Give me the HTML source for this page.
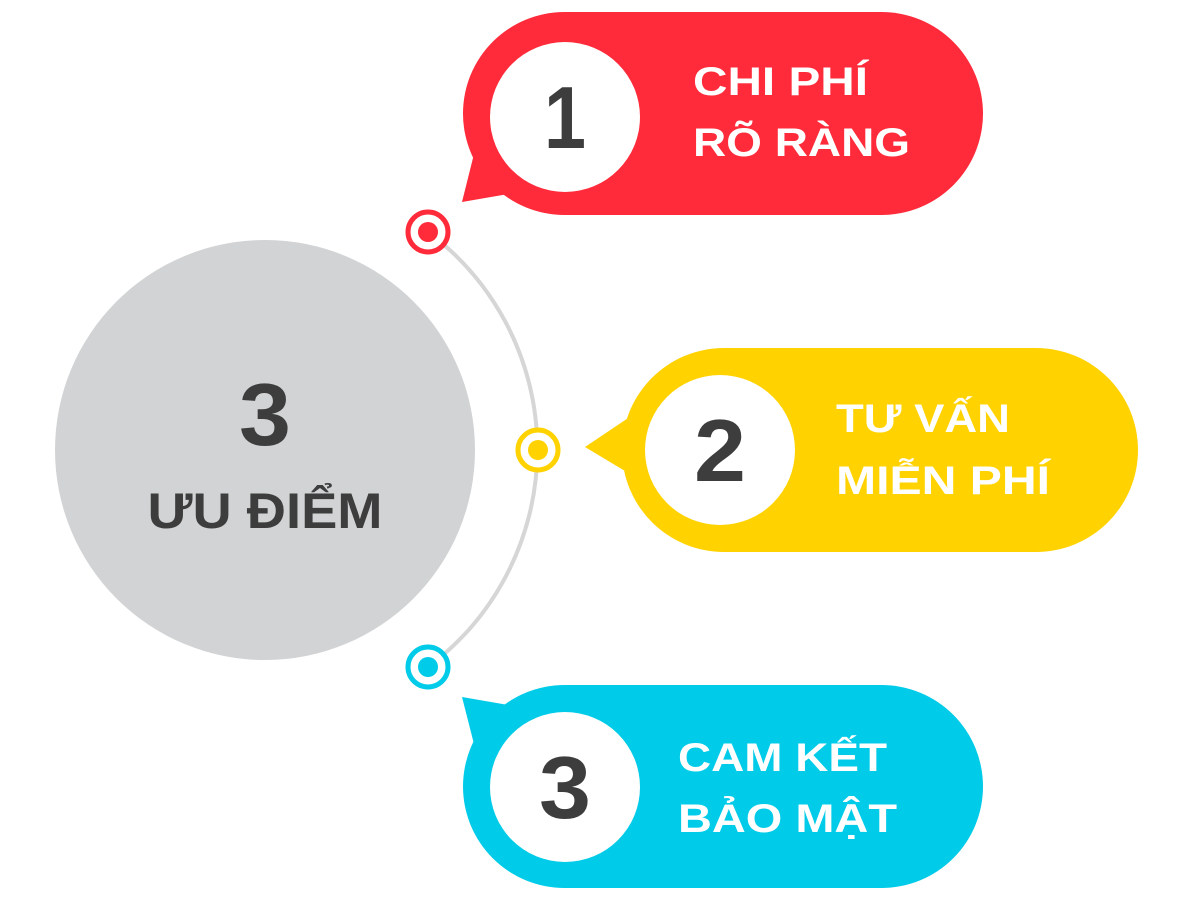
<!DOCTYPE html>
<html><head><meta charset="utf-8"><style>html,body{margin:0;padding:0;background:#fff}svg{display:block}</style></head>
<body>
<svg width="1200" height="900" viewBox="0 0 1200 900" xmlns="http://www.w3.org/2000/svg" font-family="'Liberation Sans', 'DejaVu Sans', sans-serif" font-weight="bold">
<circle cx="265" cy="450" r="210" fill="#d1d3d4"/>
<path d="M428 232 A271 271 0 0 1 428 667" fill="none" stroke="#d6d6d6" stroke-width="4"/>
<!-- red -->
<path d="M475 150 L462 202 L520 192 Z" fill="#ff2a3a"/>
<rect x="463" y="12" width="520" height="203" rx="101.5" fill="#ff2a3a"/>
<circle cx="565" cy="117" r="75" fill="#fff"/>
<text x="565" y="148" text-anchor="middle" font-size="88" fill="#3d3d3d" textLength="42" lengthAdjust="spacingAndGlyphs">1</text>
<text x="693" y="95" font-size="40" fill="#fff" textLength="175" lengthAdjust="spacingAndGlyphs">CHI PHÍ</text>
<text x="693" y="156" font-size="40" fill="#fff" textLength="217" lengthAdjust="spacingAndGlyphs">RÕ RÀNG</text>
<!-- yellow -->
<path d="M640 410 L585 447 L640 480 Z" fill="#ffd200"/>
<rect x="622" y="348" width="516" height="204" rx="102" fill="#ffd200"/>
<circle cx="720" cy="450" r="75" fill="#fff"/>
<text x="720" y="481" text-anchor="middle" font-size="88" fill="#3d3d3d" textLength="52" lengthAdjust="spacingAndGlyphs">2</text>
<text x="836" y="432" font-size="40" fill="#fff" textLength="174" lengthAdjust="spacingAndGlyphs">TƯ VẤN</text>
<text x="836" y="494" font-size="40" fill="#fff" textLength="214" lengthAdjust="spacingAndGlyphs">MIỄN PHÍ</text>
<!-- cyan -->
<path d="M475 748 L462 697 L520 707 Z" fill="#00cbe8"/>
<rect x="463" y="685" width="520" height="203" rx="101.5" fill="#00cbe8"/>
<circle cx="565" cy="787" r="75" fill="#fff"/>
<text x="565" y="818" text-anchor="middle" font-size="88" fill="#3d3d3d" textLength="52" lengthAdjust="spacingAndGlyphs">3</text>
<text x="678" y="771" font-size="40" fill="#fff" textLength="209" lengthAdjust="spacingAndGlyphs">CAM KẾT</text>
<text x="678" y="832" font-size="40" fill="#fff" textLength="219" lengthAdjust="spacingAndGlyphs">BẢO MẬT</text>
<!-- dots -->
<circle cx="428" cy="232" r="20" fill="#fff" stroke="#ff2a3a" stroke-width="5"/>
<circle cx="428" cy="232" r="10" fill="#ff2a3a"/>
<circle cx="538" cy="450" r="20" fill="#fff" stroke="#ffd200" stroke-width="5"/>
<circle cx="538" cy="450" r="10" fill="#ffd200"/>
<circle cx="428" cy="667" r="20" fill="#fff" stroke="#00cbe8" stroke-width="5"/>
<circle cx="428" cy="667" r="10" fill="#00cbe8"/>
<!-- center -->
<text x="265" y="445" text-anchor="middle" font-size="88" fill="#3d3d3d" textLength="52" lengthAdjust="spacingAndGlyphs">3</text>
<text x="265" y="528" text-anchor="middle" font-size="50" fill="#3d3d3d" textLength="235" lengthAdjust="spacingAndGlyphs">ƯU ĐIỂM</text>
</svg>
</body></html>
